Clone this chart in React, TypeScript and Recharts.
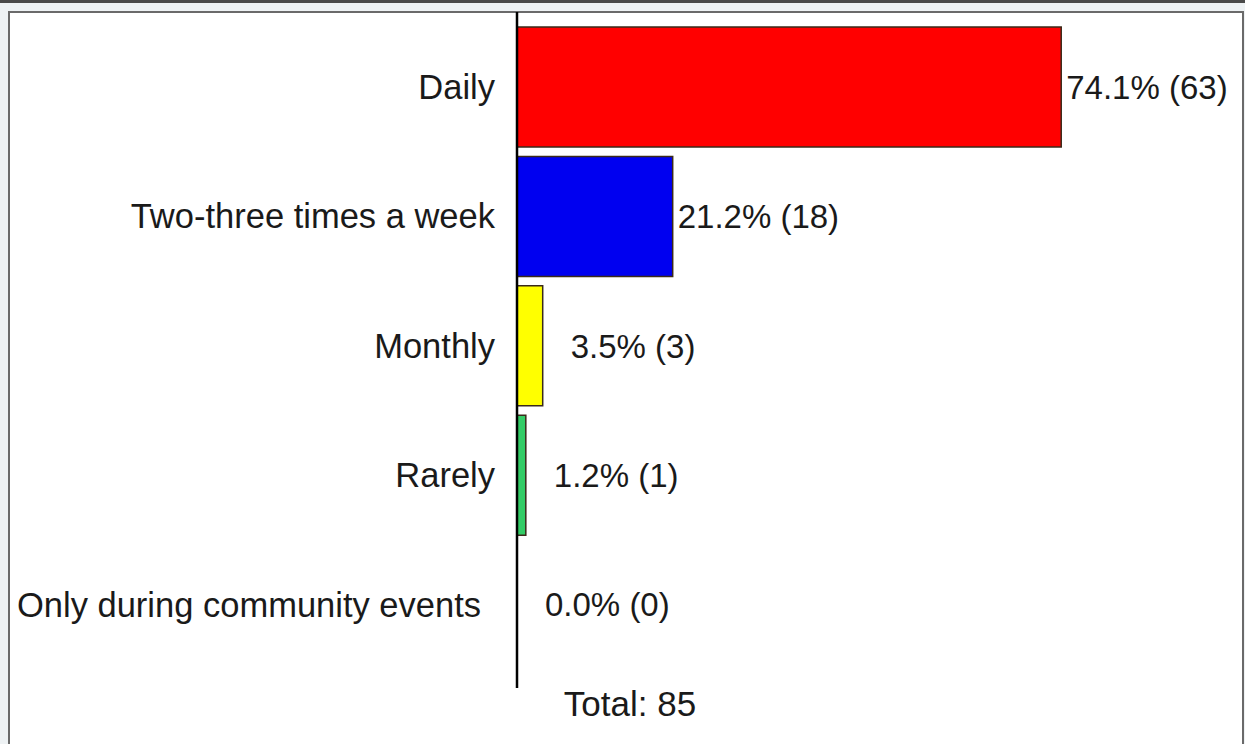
import React from "react";
import { Bar, BarChart, LabelList, XAxis, YAxis, Cell } from "recharts";

const categories = [
  "Daily",
  "Two-three times a week",
  "Monthly",
  "Rarely",
  "Only during community events",
];
const percents = [74.1, 21.2, 3.5, 1.2, 0.0];
const counts = [63, 18, 3, 1, 0];
const barColors = ["#ff0000", "#0000f0", "#ffff00", "#33cc66", "#999999"];
const total = 85;

const chartData = categories.map((name, i) => ({
  name,
  percent: percents[i],
  count: counts[i],
}));

const FONT = '"Liberation Sans", Arial, sans-serif';

const ValueLabel = (props: any) => {
  const { x, y, width, height, index } = props;
  const row = chartData[index];
  // short bars push their label further out, like the original
  const gap = width < 40 ? 28 : 5;
  const w = row.percent === 0 ? 0 : width;
  return (
    <text
      x={x + w + gap}
      y={y + height / 2}
      dy="0.355em"
      fill="#1a1a1a"
      fontSize={33}
      fontFamily={FONT}
      textAnchor="start"
    >
      {`${row.percent.toFixed(1)}% (${row.count})`}
    </text>
  );
};

const CategoryTick = (props: any) => {
  const { x, y, payload } = props;
  const label = String(payload.value);
  const shift = label.length > 25 ? 14 : 0;
  return (
    <text
      x={x - shift}
      y={y}
      dy="0.355em"
      fill="#1a1a1a"
      fontSize={34.5}
      fontFamily={FONT}
      textAnchor="end"
    >
      {label}
    </text>
  );
};

export default function App() {
  return (
    <div
      style={{
        position: "absolute",
        left: 0,
        top: 0,
        width: 1245,
        height: 744,
        overflow: "hidden",
        background: "#eef2f4",
        borderTop: "3px solid #4a4a4a",
        boxSizing: "border-box",
        fontFamily: FONT,
      }}
    >
      <div
        style={{
          position: "absolute",
          left: 8,
          top: 8,
          width: 1236,
          height: 760,
          background: "#ffffff",
          border: "2px solid #6a6a6a",
          boxSizing: "border-box",
        }}
      />
      <div style={{ position: "absolute", left: 0, top: -3 }}>
        <BarChart
          width={1245}
          height={744}
          data={chartData}
          layout="vertical"
          margin={{ top: 12, right: 67, bottom: 56, left: 0 }}
        >
          <XAxis type="number" domain={[0, 90]} hide />
          <YAxis
            type="category"
            dataKey="name"
            width={517}
            padding={{ top: 10, bottom: 19 }}
            tickLine={false}
            tickSize={0}
            tickMargin={22}
            axisLine={{ stroke: "#000", strokeWidth: 2.5 }}
            tick={<CategoryTick />}
            interval={0}
          />
          <Bar
            dataKey="percent"
            barSize={120}
            minPointSize={1}
            strokeWidth={1.5}
            isAnimationActive={false}
          >
            {chartData.map((d, i) => (
              <Cell
                key={d.name}
                fill={d.percent === 0 ? "none" : barColors[i]}
                stroke={d.percent === 0 ? "none" : "#3a2a1a"}
              />
            ))}
            <LabelList dataKey="percent" content={<ValueLabel />} />
          </Bar>
        </BarChart>
      </div>
      <div
        style={{
          position: "absolute",
          left: 480,
          top: 684,
          width: 300,
          textAlign: "center",
          fontSize: 35,
          lineHeight: "33px",
          color: "#1a1a1a",
        }}
      >
        Total: {total}
      </div>
    </div>
  );
}
